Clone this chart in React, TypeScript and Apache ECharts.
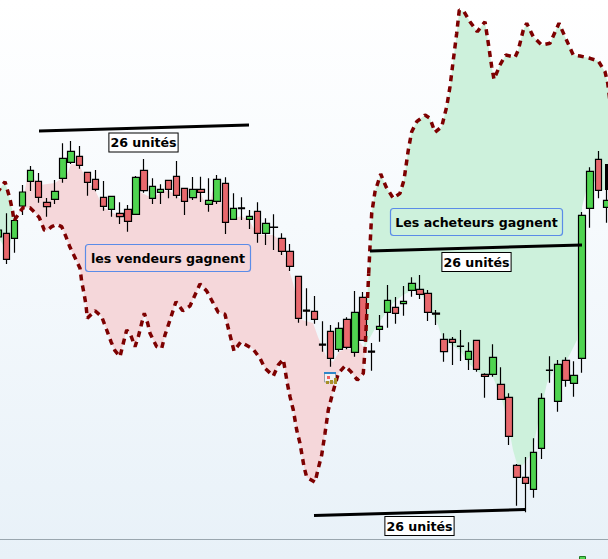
import React, { useEffect, useRef } from "react";
import * as echarts from "echarts";

const opens = [237,233.3,238.3,206,181.3,181.3,202.3,199.3,178.3,162.3,156.3,172.3,179.3,197.3,209.3,213.3,209.3,214.3,170.3,198.3,192.3,180.3,176.3,188.3,197.7,189.3,204.3,201.3,183.3,219.3,207.9,219.3,211.3,233.3,227.1,238.3,251.3,276.3,310.2,311.3,344.2,331.3,349.3,319.3,352.3,297.3,351.2,329.3,312.3,307.3,303.7,290.3,289.3,293.3,313.2,339.3,339.3,346.1,359.3,340.3,374.3,374.3,384.3,397.3,465.3,477.3,489.3,448.3,370.1,401.3,360.3,383.3,358.3,208.3,159.3,207.3];
const closes = [230,259.3,220.5,192,170.3,197.3,206.7,191.3,158.3,151.3,165.3,182.3,189.3,206.3,196.3,216.7,221.3,177.3,190.7,186.3,189.3,189.3,195.3,201.3,189.3,192.3,200.3,179.3,222.3,208.3,208.7,216.3,233.3,223.3,227.5,251.3,266.3,318.3,311.2,319.3,345.2,358.3,328.3,347.3,312.3,340.3,352.2,326.3,300.3,313.3,301.3,283.3,294.3,312.3,314.2,351.7,342.3,346.5,351.3,369.3,376.3,357.3,399.3,436.3,477.3,483.3,452.3,398.3,370.5,364.3,380.3,375.3,215.3,171.3,190.3,200.3];
const upperWicks = [215,213.3,215,185,166,173,198,180,143.3,141,146,172,170,181,196.3,202.3,205,176,159,178.3,184.3,180,161,188,177,176.7,178.3,175,177.3,193.3,197.3,210,202.3,218.3,214.3,233.3,244,276,288.3,296,321.3,325,322.3,317.3,291,292,343,315,285,297,286,277.3,275,290,310,333.3,337,330,342.3,340,373.3,344.3,367.3,393.3,464,457,438.3,393.3,356.3,360,357.3,361.3,212,167.3,151,190];
const lowerWicks = [245,264,252.7,215,191,202.7,216.7,204,182.7,164,168.7,195.7,191.3,210.7,216.7,224,231.7,214.3,192.7,204,204,198.3,198.3,215,200,202,211.7,204,234,219.3,220,229,242.7,245,250,255,271,322.7,325.7,323.7,351.7,366.7,351.7,349.3,356.7,340.3,370.7,341.7,327.7,323.7,315.7,296.7,299,321,325,361.7,365,361,370,371.7,397.7,376.7,399.3,445,505.7,512.3,497.7,459,382.7,411.7,386.7,396.7,372.7,227.7,198.3,222.7];
const categories = opens.map((_, i) => String(i + 1));

const sellersLine = [[-3,193],[5,181.7],[10,199],[12.7,211.7],[14,221],[20,211.7],[23,207.7],[30,207.7],[35,212.7],[39.3,217.7],[44.3,230],[46.7,230.7],[51.7,226.7],[56.7,224.3],[61.7,226.7],[65.7,236],[70,247.3],[75.3,258.3],[80,268.3],[81.7,281.7],[84,293.3],[86,305],[87.3,318.3],[95,310.7],[101.7,316.7],[106.7,330],[111,341.7],[115,350.7],[120,356.7],[123.3,343.3],[126.7,330],[130.7,335],[135,346.7],[138.3,336.7],[141.7,323.3],[144.3,313.3],[147.7,323.3],[150,333.3],[156.7,346.7],[161.7,348.3],[165,335],[170,320],[176,301.7],[182.7,310.7],[190,306],[195,295],[200,284],[206.7,291],[213.3,303.3],[218.3,312.3],[225,314.3],[228.3,328.3],[231.7,341.7],[234,351],[240.7,342],[253.3,349.3],[260,358.3],[265,368.3],[273.3,376],[278.3,365],[283.3,359.3],[287.3,383.3],[290,396.7],[293.3,410],[296.7,430],[300,443.3],[304,466.7],[306.7,477.3],[315,482.3],[318.3,468.3],[321.7,455],[325,433.3],[328.3,410],[331.7,396.7],[335,385],[338.3,373.3],[345,366],[351,371.7],[357.3,380],[363.3,373.3],[365,350],[366,330],[367.3,303.3],[368.7,273.3]];
const buyersLine = [[368.7,273.3],[370,246.7],[371.7,213.3],[375,191.7],[380.7,174],[386,186.7],[393.3,198.3],[400,193.3],[404,180],[408.3,150],[411.7,131.7],[416.7,121.7],[425,115],[430,118.3],[435,132.3],[441.7,126.7],[446.7,106.7],[450,86.7],[453.3,60],[456.7,33.3],[459.3,10],[464,11.7],[470,21.7],[477.3,31.7],[485,21.7],[488.3,43.3],[491.7,66.7],[494,79.3],[500,65],[505.7,55],[515,57.3],[518.3,50],[523.3,30],[526.7,23.3],[533.3,36.7],[541.7,45],[550,43.3],[559,23.3],[565,36.7],[573.3,55],[580,56],[590,58.3],[598.3,61],[605,71.7],[607.7,83],[611,110]];
const sellersEdge = [[14,221],[16.7,220],[25,190],[28,173],[40,185],[55,183],[62,178],[67,175],[71,164],[79,165],[87,180],[95,190],[103,207],[113,213],[127,220],[133,213],[140,192],[152,198],[160,193],[168,190],[176,195],[184,202],[192,197],[200,192],[205,203],[210,206],[212,193],[217,180],[225,222],[233,219],[241,216],[249,220],[257,234],[265,235],[273,235],[280,240],[287,263],[293,283],[298,305],[302,320],[313,323],[318,337],[327,358],[333,362],[339,352],[347,348],[355,352],[360,342],[365,350]];
const buyersEdge = [[611,190],[603,190],[598,190],[590,171],[587,187],[582,207],[583,260],[580,293],[577,340],[567,360],[555,367],[547,383],[538,423],[532,453],[523,465],[517,464],[513,450],[508,423],[502,400],[493,377],[480,373],[468,363],[460,350],[443,340],[438,325],[430,310],[423,297],[413,290],[403,295],[393,303],[383,317],[377,325],[367,343],[364,350]];
const leftLens = [[-3,193],[5,181.7],[10,199],[12.7,211.7],[14,221],[11,240],[7,255],[3,245],[-3,235]];
const trendTop = [[39,131],[249,125]];
const trendMiddle = [[370,251],[582,245]];
const trendBottom = [[314,515.5],[525,509.5]];
const unitsLabel = "26 unités";
const sellersLabel = "les vendeurs gagnent";
const buyersLabel = "Les acheteurs gagnent";

const BAND = 8.11;
const LEFT = -5.86;
const WIDTH = BAND * opens.length;
const FONT = 'bold 12.6px "DejaVu Sans"';
const RED = "#e8686d";
const GREEN = "#4fd450";
const DARK = "#7d0000";

function areaSeries(points: number[][], color: string, z: number) {
  return {
    type: "custom",
    xAxisIndex: 1,
    yAxisIndex: 0,
    z,
    silent: true,
    clip: true,
    data: [0],
    renderItem: (_: unknown, api: any) => ({
      type: "polygon",
      shape: { points: points.map((p) => api.coord(p)) },
      style: { fill: color, stroke: "none" },
    }),
  };
}

function lineSeries(data: number[][], color: string, width: number, dash: any, z: number) {
  return {
    type: "line",
    xAxisIndex: 1,
    yAxisIndex: 0,
    data,
    z,
    symbol: "none",
    silent: true,
    lineStyle: { color, width, type: dash, cap: "butt" },
  };
}

function unitText(cx: number, cy: number) {
  return {
    type: "text",
    z: 100,
    style: {
      text: unitsLabel,
      x: cx,
      y: cy,
      align: "center",
      verticalAlign: "middle",
      font: FONT,
      fill: "#000",
      backgroundColor: "#fff",
      borderColor: "#000",
      borderWidth: 1,
      padding: [3, 1, 2, 1],
    },
  };
}

function noteBox(x: number, y: number, w: number, h: number, text: string) {
  return [
    {
      type: "rect",
      z: 100,
      shape: { x, y, width: w, height: h, r: 3 },
      style: { fill: "none", stroke: "#5b8ce8", lineWidth: 1.2 },
    },
    {
      type: "text",
      z: 101,
      style: {
        text,
        x: x + w / 2,
        y: y + h / 2,
        align: "center",
        verticalAlign: "middle",
        font: FONT,
        fill: "#000",
      },
    },
  ];
}

export default function App() {
  const ref = useRef<HTMLDivElement>(null);
  useEffect(() => {
    document.body.style.margin = "0";
    const chart = echarts.init(ref.current!, undefined, { renderer: "svg" });
    chart.setOption({
      animation: false,
      grid: { left: LEFT, top: 0, width: WIDTH, height: 559, outerBoundsMode: "none" },
      xAxis: [
        { type: "category", data: categories, show: false, boundaryGap: true },
        { type: "value", min: LEFT, max: LEFT + WIDTH, show: false, splitLine: { show: false } },
      ],
      yAxis: { type: "value", min: 0, max: 559, inverse: true, show: false, splitLine: { show: false } },
      series: [
        areaSeries([...sellersLine.slice(4, 80), ...[...sellersEdge].reverse()], "#f5d7da", 1),
        areaSeries([...buyersLine, ...buyersEdge], "#cdf1dc", 1),
        areaSeries(leftLens, "#cdf1dc", 1),
        {
          type: "candlestick",
          xAxisIndex: 0,
          yAxisIndex: 0,
          z: 5,
          barWidth: 7,
          silent: true,
          data: opens.map((o, i) => [o, closes[i], upperWicks[i], lowerWicks[i]]),
          itemStyle: {
            color: RED,
            color0: GREEN,
            borderColor: "#000",
            borderColor0: "#000",
            borderColorDoji: "#000",
            borderWidth: 1.2,
          },
        },
        lineSeries(sellersLine, DARK, 3.5, [6, 5], 8),
        lineSeries(buyersLine, DARK, 3.5, [6, 5], 8),
        lineSeries(trendTop, "#000", 3, "solid", 9),
        lineSeries(trendMiddle, "#000", 3, "solid", 9),
        lineSeries(trendBottom, "#000", 3, "solid", 9),
      ],
      graphic: [
        { type: "line", z: 50, shape: { x1: 0, y1: 539.5, x2: 608, y2: 539.5 }, style: { stroke: "#9aa6ae", lineWidth: 1 } },
        { type: "rect", z: 50, shape: { x: 579.5, y: 556.5, width: 6, height: 4 }, style: { fill: GREEN, stroke: "#1f7a22", lineWidth: 1 } },
        { type: "rect", z: 50, shape: { x: 605, y: 164, width: 4, height: 26 }, style: { fill: "#000" } },
        unitText(143.5, 142.5),
        unitText(476.5, 262),
        unitText(419.5, 526),
        ...noteBox(85.5, 244.5, 165, 27, sellersLabel),
        ...noteBox(390.5, 208.5, 172, 27, buyersLabel),
        { type: "rect", z: 60, shape: { x: 324.5, y: 373, width: 11, height: 9 }, style: { fill: "#f2f2f2", stroke: "#9aa0a8", lineWidth: 1 } },
        { type: "rect", z: 61, shape: { x: 324, y: 372, width: 12, height: 2 }, style: { fill: "#2f86c8" } },
        { type: "rect", z: 61, shape: { x: 327, y: 376, width: 3, height: 3 }, style: { fill: "#f06060" } },
        { type: "rect", z: 61, shape: { x: 326, y: 381, width: 3, height: 3 }, style: { fill: "#a89028" } },
        { type: "rect", z: 61, shape: { x: 330, y: 380, width: 3, height: 4 }, style: { fill: "#a89028" } },
        { type: "rect", z: 61, shape: { x: 334, y: 378, width: 3, height: 6 }, style: { fill: "#a89028" } },
      ],
    });
    return () => chart.dispose();
  }, []);
  return (
    <div
      ref={ref}
      style={{
        width: 608,
        height: 559,
        background: "linear-gradient(180deg, #ffffff 0%, #f6fafd 40%, #e8f1f8 100%)",
      }}
    />
  );
}
